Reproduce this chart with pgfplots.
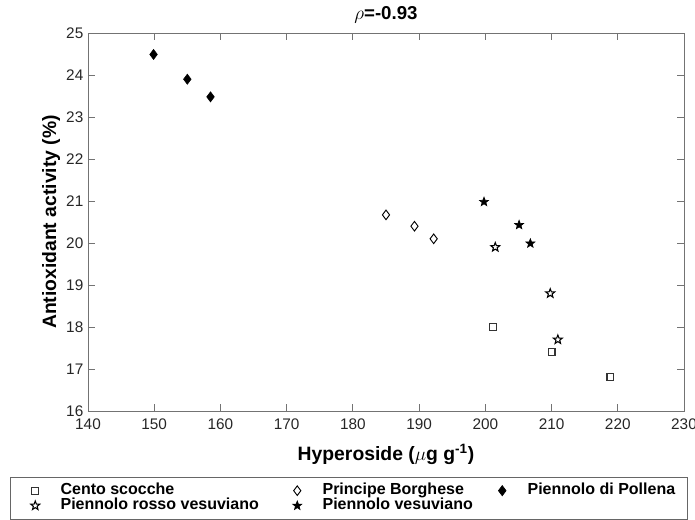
\documentclass[border=0pt]{standalone}
\usepackage{pgfplots}
\pgfplotsset{compat=1.18}
\usepackage{fontspec}
\setmainfont{Liberation Sans}
\usetikzlibrary{plotmarks}

% five-pointed star mark
\pgfdeclareplotmark{fstar}{%
  \pgfpathmoveto{\pgfpointpolar{90}{\pgfplotmarksize}}%
  \pgfpathlineto{\pgfpointpolar{126}{0.42\pgfplotmarksize}}%
  \pgfpathlineto{\pgfpointpolar{162}{\pgfplotmarksize}}%
  \pgfpathlineto{\pgfpointpolar{198}{0.42\pgfplotmarksize}}%
  \pgfpathlineto{\pgfpointpolar{234}{\pgfplotmarksize}}%
  \pgfpathlineto{\pgfpointpolar{270}{0.42\pgfplotmarksize}}%
  \pgfpathlineto{\pgfpointpolar{306}{\pgfplotmarksize}}%
  \pgfpathlineto{\pgfpointpolar{342}{0.42\pgfplotmarksize}}%
  \pgfpathlineto{\pgfpointpolar{18}{\pgfplotmarksize}}%
  \pgfpathlineto{\pgfpointpolar{54}{0.42\pgfplotmarksize}}%
  \pgfpathclose\pgfusepathqfillstroke}

\pgfplotsset{
  legimg/.style={legend image code/.code={%
      \path[draw=none, fill=none] (-10pt,-4pt) rectangle (19pt,4pt);
      \draw[##1] plot coordinates {(0pt,0pt)};}},
}

\begin{document}
\begin{tikzpicture}
\begin{axis}[
    scale only axis,
    width=447pt, height=283.5pt,
    xmin=140, xmax=230, ymin=16, ymax=25,
    xtick={140,150,...,230},
    ytick={16,17,...,25},
    tick align=inside,
    major tick length=5pt,
    axis line style={black!55, line width=0.6pt},
    every tick/.style={black!55, line width=0.6pt},
    tick label style={font=\fontsize{11.5}{13}\selectfont, text=black!85},
    xticklabel style={yshift=-2.5pt},
    /pgf/number format/assume math mode=true,
    xlabel={Hyperoside (\textmd{$\mu$}g g\textsuperscript{-1})},
    ylabel={Antioxidant activity (\%)},
    xlabel style={font=\fontsize{14.5}{16}\selectfont\bfseries, at={(axis description cs:0.5,-0.115)}, anchor=center},
    ylabel style={font=\fontsize{14.5}{16}\selectfont\bfseries, at={(axis description cs:-0.062,0.5)}, anchor=center},
    title={$\rho$\textbf{=-0.93}},
    title style={font=\fontsize{14}{16}\selectfont, at={(axis description cs:0.5,1)}, anchor=base, yshift=4pt},
    legend columns=3,
    legend style={at={(axis description cs:-0.131,-0.1746)}, anchor=north west,
        draw=black!60, line width=0.5pt, inner xsep=8.75pt, inner ysep=4.5pt,
        font=\fontsize{12}{13}\selectfont\bfseries,
        cells={anchor=west}, column sep=0pt, row sep=0.25pt,
        nodes={inner sep=0pt, text height=8.5pt, text depth=2.5pt}},
    ]
\coordinate (sw) at (rel axis cs:0,0);

\addplot[only marks, mark=square, mark size=2.6pt, mark options={black!80, line width=0.8pt, fill=white}, legimg]
  coordinates {(201.1,18.0) (210.0,17.4) (218.9,16.8)};
\addlegendentry{\makebox[167.5pt][l]{Cento scocche}}

\addplot[only marks, mark=diamond, mark size=3.6pt, mark options={black, line width=0.7pt, fill=white}, legimg]
  coordinates {(185.0,20.67) (189.3,20.4) (192.2,20.1)};
\addlegendentry{\makebox[124.75pt][l]{Principe Borghese}}

\addplot[only marks, mark=diamond*, mark size=3.8pt, mark options={black, fill=black}, legimg]
  coordinates {(149.9,24.49) (155.0,23.9) (158.5,23.48)};
\addlegendentry{\makebox[111pt][l]{Piennolo di Pollena}}

\addplot[only marks, mark=fstar, mark size=3.5pt, mark options={black, line width=0.8pt, fill=white}, legimg]
  coordinates {(201.5,19.9) (209.8,18.8) (210.95,17.7)};
\addlegendentry{\makebox[167.5pt][l]{Piennolo rosso vesuviano}}

\addplot[only marks, mark=fstar, mark size=3.5pt, mark options={black, line width=0.5pt, fill=black}, legimg]
  coordinates {(199.8,20.98) (205.1,20.43) (206.8,19.99)};
\addlegendentry{\makebox[124.75pt][l]{Piennolo vesuviano}}
\end{axis}
\pgfresetboundingbox
\path[use as bounding box] ([shift={(-66pt,-81pt)}]sw) rectangle ([shift={(455.25pt,308.25pt)}]sw);
\end{tikzpicture}
\end{document}
